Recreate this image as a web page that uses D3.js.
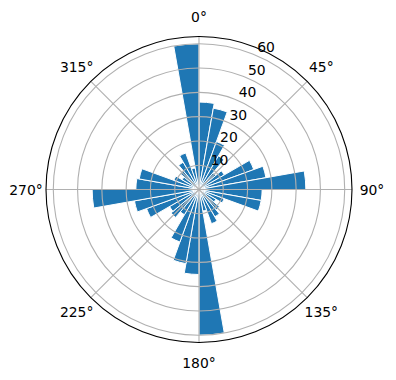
<!DOCTYPE html>
<html>
<head>
<meta charset="utf-8">
<script src="https://cdn.jsdelivr.net/npm/d3@7"></script>
<style>
  html, body { margin: 0; padding: 0; background: #fff; }
  svg text { font-family: "DejaVu Sans", sans-serif; font-size: 13.9px; fill: #000; }
</style>
</head>
<body>
<svg id="chart" width="396" height="380"></svg>
<script>
// Bin start angles (degrees, clockwise from north), 10° wide
const angles = [0,10,20,30,40,50,60,70,80,90,100,110,120,130,140,150,160,170,
                180,190,200,210,220,230,240,250,260,270,280,290,300,310,320,330,340,350];
// Counts per bin
const counts = [36,34,21,16,9,12,24,28,44,26,26,11,8,11,13,15,9,60,
                35,31,23,12,15,14,23,27,44,26,25,11,8,10,13,16,9,60];
const radialTicks = [10,20,30,40,50,60];
const angleTicks = [0,45,90,135,180,225,270,315];
const binWidth = 10;
const rMax = 63;

const cx = 199, cy = 189.5, R = 153;
const svg = d3.select("#chart");
const g = svg.append("g").attr("transform", `translate(${cx},${cy})`);

const r = d3.scaleLinear().domain([0, rMax]).range([0, R]);
const rad = d => d * Math.PI / 180;

// bars
const arc = d3.arc()
  .innerRadius(0)
  .outerRadius(d => r(d.v))
  .startAngle(d => rad(d.a))
  .endAngle(d => rad(d.a + binWidth));
g.selectAll("path.bar")
  .data(angles.map((a, i) => ({a, v: counts[i]})))
  .join("path")
  .attr("class", "bar")
  .attr("d", arc)
  .attr("fill", "#1f77b4")
  .attr("stroke", "#ffffff")
  .attr("stroke-width", 1)
  .attr("stroke-linejoin", "miter");

// grid circles
g.selectAll("circle.grid")
  .data(radialTicks)
  .join("circle")
  .attr("r", d => r(d))
  .attr("fill", "none")
  .attr("stroke", "#b0b0b0")
  .attr("stroke-width", 1.1);

// angular grid lines
g.selectAll("line.grid")
  .data(angleTicks)
  .join("line")
  .attr("x1", 0).attr("y1", 0)
  .attr("x2", d => R * Math.sin(rad(d)))
  .attr("y2", d => -R * Math.cos(rad(d)))
  .attr("stroke", "#b0b0b0")
  .attr("stroke-width", 1.1);

// outer spine
g.append("circle")
  .attr("r", R)
  .attr("fill", "none")
  .attr("stroke", "#000")
  .attr("stroke-width", 1.1);

// angle labels
const labR = 173;
g.selectAll("text.theta")
  .data(angleTicks)
  .join("text")
  .attr("x", d => labR * Math.sin(rad(d)))
  .attr("y", d => -labR * Math.cos(rad(d)) + 5)
  .attr("text-anchor", "middle")
  .text(d => d + "°");

// radial labels at 22.5°
const rlab = 22.5;
g.selectAll("text.rlab")
  .data(radialTicks)
  .join("text")
  .attr("x", d => r(d) * Math.sin(rad(rlab)) + 2.5)
  .attr("y", d => -r(d) * Math.cos(rad(rlab)) - 2.5)
  .attr("text-anchor", "start")
  .text(d => d);
</script>
</body>
</html>
